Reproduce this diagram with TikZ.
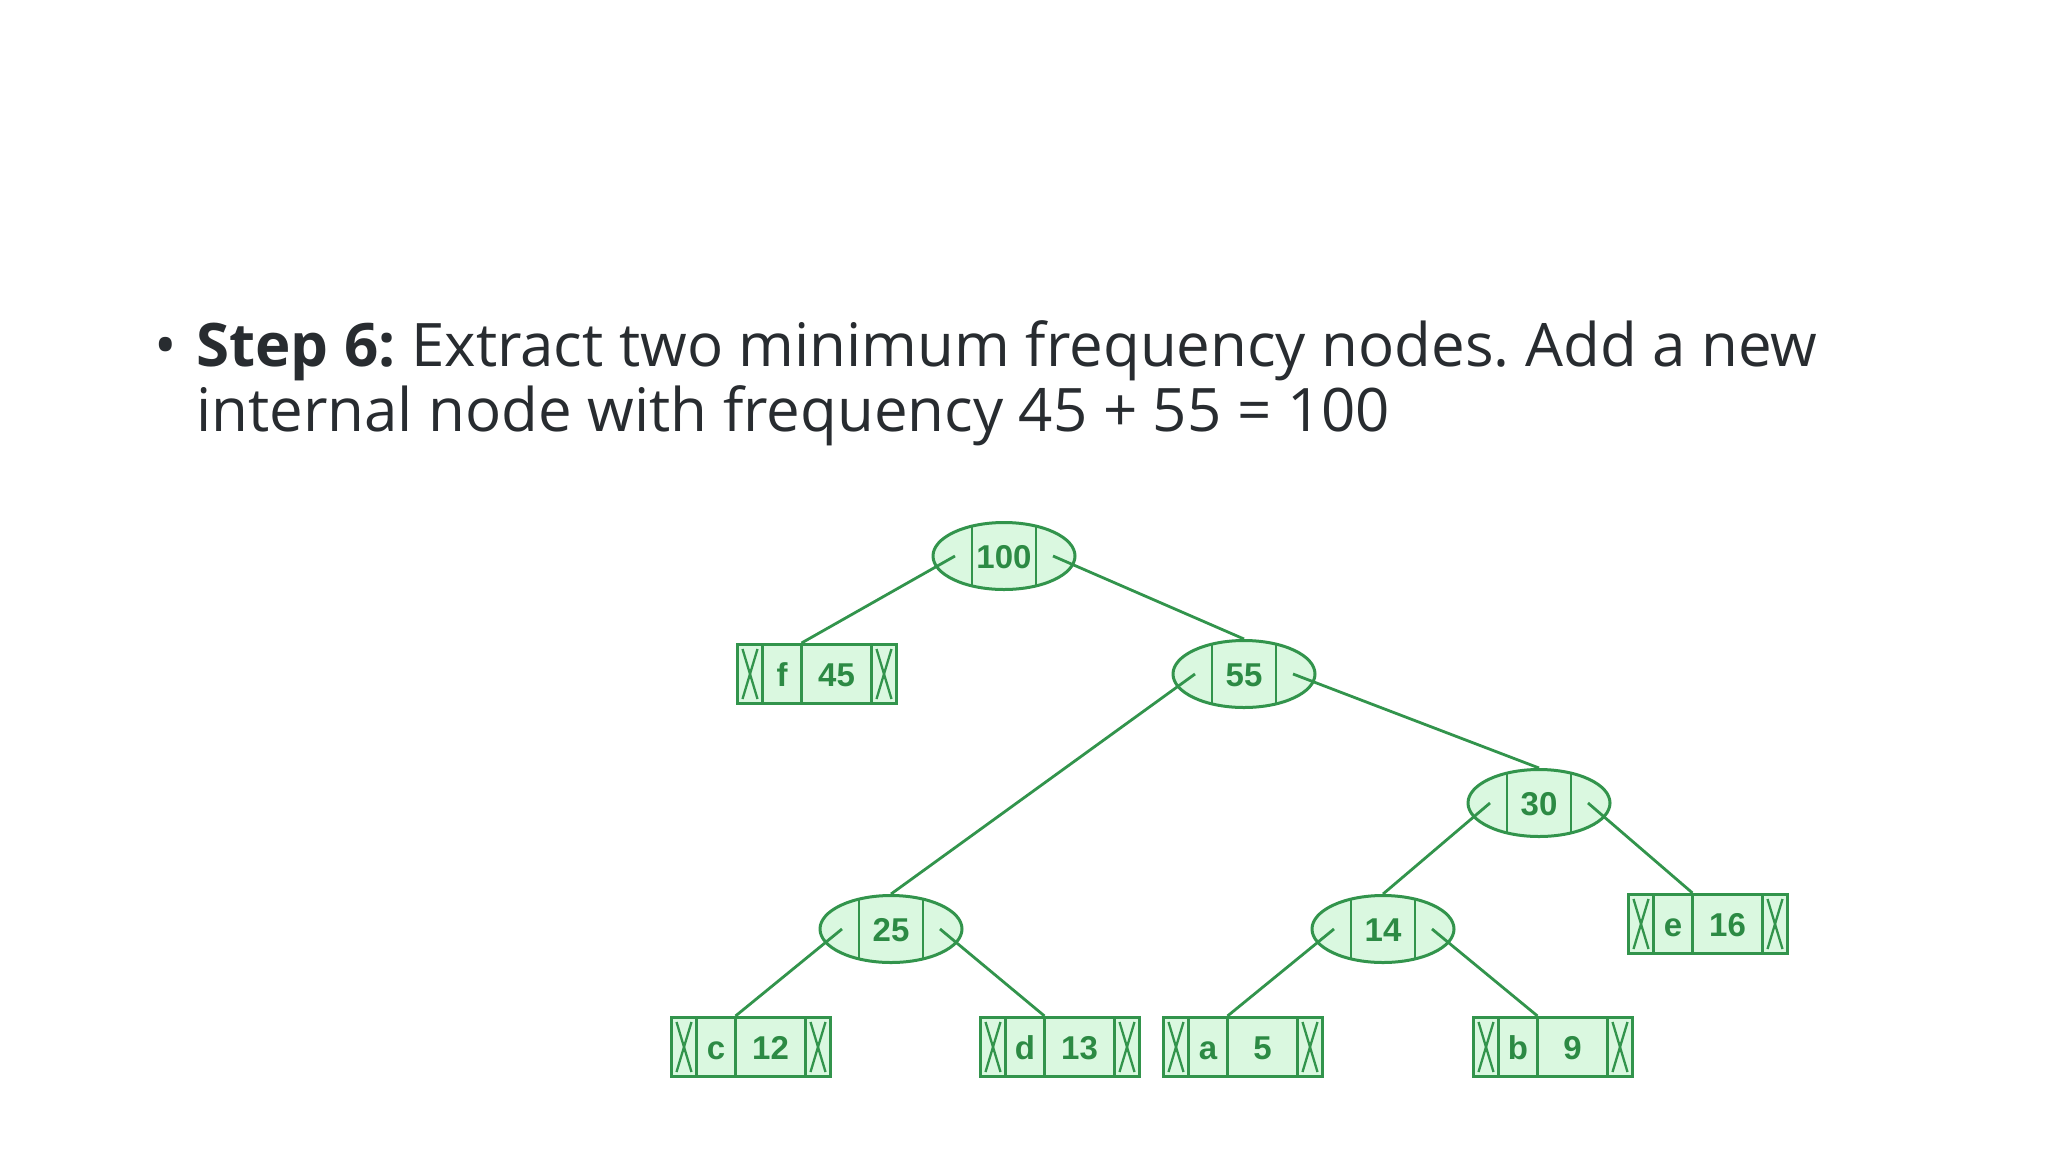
\documentclass[tikz,border=0pt]{standalone}
\usepackage{fontspec}
\setmainfont{Open Sans}
\newfontfamily\nodefont{Liberation Sans}
\usetikzlibrary{shapes.geometric}
\definecolor{gline}{RGB}{50,148,76}
\definecolor{gfill}{RGB}{218,248,224}
\definecolor{gtext}{RGB}{44,138,68}
\definecolor{heading}{RGB}{40,44,48}

\newcommand\hnode[4]{%
  \node[inode] (#1) at (#2,#3) {};
  \draw[edge] ([shift={(-32,-30)}]#1.center) -- ([shift={(-32,30)}]#1.center);
  \draw[edge] ([shift={(32,-30)}]#1.center) -- ([shift={(32,30)}]#1.center);
  \node[lbl, anchor=base] (#1-v) at ([shift={(0,12)}]#1.center) {#4};
  \coordinate (#1-l) at ([shift={(-49,0)}]#1.center);
  \coordinate (#1-r) at ([shift={(49,0)}]#1.center);
}
\newcommand\hleaf[5]{%
  \node[leafbox] (#1) at (#2,#3) {};
  \draw[edge] ([shift={(-54.5,0)}]#1.north) -- ([shift={(-54.5,0)}]#1.south);
  \draw[edge] ([shift={(-15.5,0)}]#1.north) -- ([shift={(-15.5,0)}]#1.south);
  \draw[edge] ([shift={(54.5,0)}]#1.north) -- ([shift={(54.5,0)}]#1.south);
  \draw[xmark] ([shift={(-74.5,6)}]#1.north) -- ([shift={(-59.5,-6)}]#1.south);
  \draw[xmark] ([shift={(-59.5,6)}]#1.north) -- ([shift={(-74.5,-6)}]#1.south);
  \draw[xmark] ([shift={(59.5,6)}]#1.north) -- ([shift={(74.5,-6)}]#1.south);
  \draw[xmark] ([shift={(74.5,6)}]#1.north) -- ([shift={(59.5,-6)}]#1.south);
  \node[lbl, anchor=base] (#1-k) at ([shift={(-35,12)}]#1.center) {#4};
  \node[lbl, anchor=base] (#1-v) at ([shift={(19.5,12)}]#1.center) {#5};
  \coordinate (#1-p) at ([shift={(-15.5,0)}]#1.north);
}

\begin{document}
\begin{tikzpicture}[x=1pt,y=-1pt,
  inode/.style={ellipse, draw=gline, fill=gfill, line width=3pt, minimum width=142pt, minimum height=67pt, inner sep=0pt},
  leafbox/.style={rectangle, draw=gline, fill=gfill, line width=3pt, minimum width=159pt, minimum height=59pt, inner sep=0pt},
  edge/.style={draw=gline, line width=2.8pt},
  xmark/.style={draw=gline, line width=2.3pt},
  lbl/.style={font={\nodefont\bfseries\fontsize{33}{33}\selectfont}, text=gtext, inner sep=0pt},
  head/.style={font={\fontsize{60}{65}\selectfont\frenchspacing}, text=heading, inner sep=0pt}
]
\useasboundingbox[fill=white] (0,0) rectangle (2048,1152);

\node[head, anchor=base] (bullet) at (166,366) {•};
\node[head, anchor=base west] (line1) at (196,366) {\textbf{Step 6:} Extract two minimum frequency nodes. Add a new};
\node[head, anchor=base west] (line2) at (196,431) {internal node with frequency 45 + 55 = 100};

\hnode{n100}{1004}{556}{100}
\hnode{n55}{1244}{674}{55}
\hnode{n30}{1539}{803}{30}
\hnode{n25}{891}{929}{25}
\hnode{n14}{1383}{929}{14}

\hleaf{f45}{817}{674}{f}{45}
\hleaf{e16}{1708}{924}{e}{16}
\hleaf{c12}{751}{1047}{c}{12}
\hleaf{d13}{1060}{1047}{d}{13}
\hleaf{a5}{1243}{1047}{a}{5}
\hleaf{b9}{1553}{1047}{b}{9}

\draw[edge] (n100-l) -- (f45-p);
\draw[edge] (n100-r) -- (n55.north);
\draw[edge] (n55-l) -- (n25.north);
\draw[edge] (n55-r) -- (n30.north);
\draw[edge] (n30-l) -- (n14.north);
\draw[edge] (n30-r) -- (e16-p);
\draw[edge] (n25-l) -- (c12-p);
\draw[edge] (n25-r) -- (d13-p);
\draw[edge] (n14-l) -- (a5-p);
\draw[edge] (n14-r) -- (b9-p);
\end{tikzpicture}
\end{document}
